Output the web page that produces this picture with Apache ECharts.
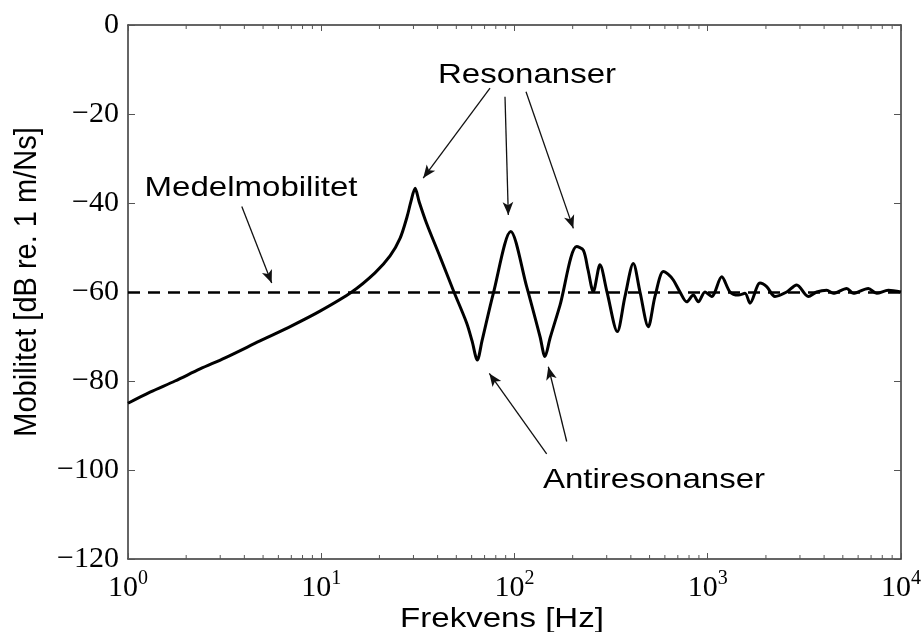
<!DOCTYPE html>
<html>
<head>
<meta charset="utf-8">
<script src="https://cdn.jsdelivr.net/npm/echarts@6/dist/echarts.min.js"></script>
<style>
html,body{margin:0;padding:0;background:#fff;}
#chart{width:924px;height:632px;}
</style>
</head>
<body>
<div id="chart"></div>
<script>
// ---- data ----
const freqHz = [1.00,1.30,1.75,2.36,3.18,4.82,7.03,9.85,14.38,18.97,22.7,25.6,27.8,29.1,30.6,32.1,35.1,41.2,48.2,56.6,60.3,64.2,67.9,77.7,95.6,115.6,135.5,143.8,152.7,171.9,209.8,227.0,240.1,255.7,276.9,301.1,340.4,373.1,411.9,446.1,492.4,533.3,588.8,622.8,663.4,718.5,778.0,842,893.6,967.8,1048,1181,1304,1439,1559,1654,1864,2018,2228,2562,2886,3314,3662,4127,4464,5236,5665,6772,7486,8597,10000];
const mobilityDb = [-85,-82.5,-80.0,-77.3,-74.8,-71.0,-67.6,-64.3,-60.0,-55.7,-51.9,-47.9,-43.1,-39.7,-36.7,-39.7,-44.6,-52.1,-59.6,-67.0,-71.0,-75.3,-71.0,-60.3,-46.4,-58.8,-70.0,-74.5,-70.4,-63.0,-49.8,-50.6,-55.0,-59.9,-53.9,-60.0,-68.9,-61.0,-53.6,-60.0,-67.8,-61.0,-55.4,-56.0,-57.3,-60.0,-62.2,-60.7,-62.2,-60.0,-61.0,-56.6,-60.0,-60.7,-60.3,-62.5,-58.0,-58.8,-61.0,-60.0,-58.4,-61.0,-60.0,-59.6,-60.3,-59.2,-60.3,-59.2,-60.3,-59.6,-60.0];
const meanMobility = -60;
const xMinorTicks = [2,3,4,5,6,7,8,9,20,30,40,50,60,70,80,90,200,300,400,500,600,700,800,900,2000,3000,4000,5000,6000,7000,8000,9000];
const labelResonance = 'Resonanser';
const labelAnti = 'Antiresonanser';
const labelMean = 'Medelmobilitet';
const xTitle = 'Frekvens [Hz]';
const yTitle = 'Mobilitet [dB re. 1 m/Ns]';
// arrows: [from, to] in data coordinates [Hz, dB]
const resonanceArrows = [[[74.7,-14.2],[33.7,-34.4]],[[89.3,-16.1],[92.9,-42.7]],[[114.7,-15.0],[201.6,-45.7]]];
const antiArrows = [[[146.7,-96.4],[74.1,-78.3]],[[186.3,-93.6],[149.6,-76.8]]];
const meanArrows = [[[3.88,-40.8],[5.54,-58.0]]];

// ---- chart ----
const chart = echarts.init(document.getElementById('chart'), null, {renderer:'canvas'});
const serif = '"Liberation Serif","DejaVu Serif",serif';
const sans = '"Liberation Sans",Arial,sans-serif';
const curve = freqHz.map((f,i)=>[f, mobilityDb[i]]);
const arrowData = [].concat(resonanceArrows, antiArrows, meanArrows).map(a => [{coord:a[0]},{coord:a[1]}]);
const minus = v => v < 0 ? '\u2212' + Math.abs(v) : String(v);

const axisLineStyle = {color:'#333', width:1.5};
const option = {
  animation:false,
  backgroundColor:'#fff',
  grid:{left:128,right:23,top:25,bottom:73,containLabel:false},
  xAxis:[{
    type:'log', logBase:10, min:1, max:10000,
    axisLine:{show:true,onZero:false,lineStyle:axisLineStyle},
    axisTick:{show:true,inside:true,length:6,lineStyle:{color:'#555',width:1}},
    splitLine:{show:false},
    axisLabel:{
      margin:10,
      formatter: v => '{b|10}{s|' + Math.round(Math.log10(v)) + '}',
      rich:{
        b:{fontSize:30,fontFamily:serif,color:'#000',verticalAlign:'bottom',lineHeight:34},
        s:{fontSize:20,fontFamily:serif,color:'#000',verticalAlign:'top',lineHeight:34}
      }
    }
  },{
    type:'log', logBase:10, min:1, max:10000, position:'top',
    axisLine:{show:true,onZero:false,lineStyle:axisLineStyle},
    axisTick:{show:true,inside:true,length:6,lineStyle:{color:'#555',width:1}},
    axisLabel:{show:false}, splitLine:{show:false}
  }],
  yAxis:[{
    type:'value', min:-120, max:0, interval:20,
    axisLine:{show:true,onZero:false,lineStyle:axisLineStyle},
    axisTick:{show:true,inside:true,length:7,lineStyle:{color:'#555',width:1}},
    splitLine:{show:false},
    axisLabel:{margin:9,fontSize:30,fontFamily:serif,color:'#000',formatter:minus}
  },{
    type:'value', min:-120, max:0, interval:20, position:'right',
    axisLine:{show:true,onZero:false,lineStyle:axisLineStyle},
    axisTick:{show:true,inside:true,length:7,lineStyle:{color:'#555',width:1}},
    axisLabel:{show:false}, splitLine:{show:false}
  }],
  series:[
    {
      type:'custom', silent:true, xAxisIndex:0, yAxisIndex:0,
      data: xMinorTicks.map(f => [f, -120]),
      renderItem:(params, api) => {
        const f = api.value(0);
        const b = api.coord([f, -120]);
        const t = api.coord([f, 0]);
        return {type:'group', children:[
          {type:'line', shape:{x1:b[0],y1:b[1],x2:b[0],y2:b[1]-4}, style:{stroke:'#555',lineWidth:1}},
          {type:'line', shape:{x1:t[0],y1:t[1],x2:t[0],y2:t[1]+4}, style:{stroke:'#555',lineWidth:1}}
        ]};
      }
    },
    {
      type:'line', data:curve, showSymbol:false, symbol:'none', silent:true,
      smooth:0.3,
      lineStyle:{color:'#000',width:3,join:'round'},
      markLine:{
        silent:true, symbol:['none','none'], animation:false,
        label:{show:false},
        lineStyle:{color:'#000',width:2.5,type:[12,8]},
        data:[{yAxis:meanMobility}]
      },
      z:3
    },
    {
      type:'line', data:[], silent:true,
      markLine:{
        silent:true, symbol:['none','arrow'], symbolSize:[8,13], animation:false,
        label:{show:false},
        emphasis:{disabled:true},
        lineStyle:{color:'#111',width:1.3,type:'solid'},
        data:arrowData
      }
    }
  ],
  graphic:[
    {type:'text', x:527, y:75, scaleX:1.18, silent:true,
     style:{text:labelResonance, font:'28px '+sans, fill:'#000', align:'center', verticalAlign:'middle'}},
    {type:'text', x:251, y:188, scaleX:1.18, silent:true,
     style:{text:labelMean, font:'28px '+sans, fill:'#000', align:'center', verticalAlign:'middle'}},
    {type:'text', x:654, y:480, scaleX:1.18, silent:true,
     style:{text:labelAnti, font:'28px '+sans, fill:'#000', align:'center', verticalAlign:'middle'}},
    {type:'text', x:502, y:619, scaleX:1.18, silent:true,
     style:{text:xTitle, font:'28px '+sans, fill:'#000', align:'center', verticalAlign:'middle'}},
    {type:'text', x:27, y:282, rotation:Math.PI/2, scaleY:1.1, silent:true,
     style:{text:yTitle, font:'29px '+sans, fill:'#000', align:'center', verticalAlign:'middle'}}
  ]
};
chart.setOption(option);
</script>
</body>
</html>
